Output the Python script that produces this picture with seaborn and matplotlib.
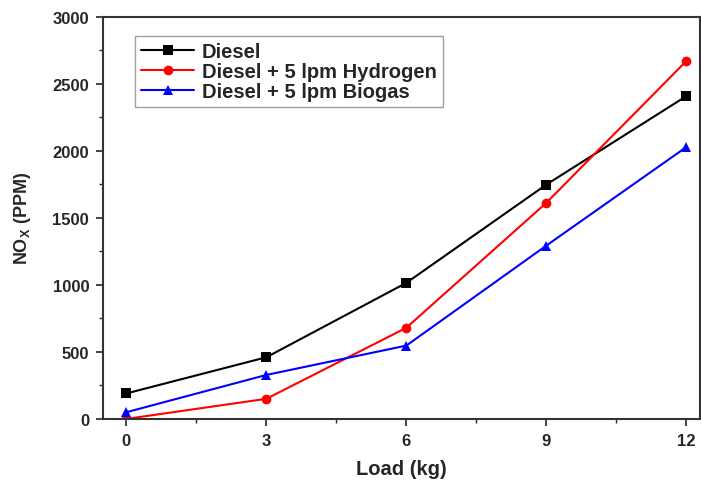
import matplotlib
matplotlib.use("Agg")
import matplotlib.pyplot as plt
import seaborn as sns
import pandas as pd
from matplotlib.ticker import MultipleLocator

load = [0, 3, 6, 9, 12]
diesel = [190, 460, 1015, 1748, 2408]
hydrogen = [0, 150, 680, 1612, 2670]
biogas = [50, 328, 547, 1293, 2028]
labels = ["Diesel", "Diesel + 5 lpm Hydrogen", "Diesel + 5 lpm Biogas"]
colors = ["black", "red", "blue"]
markers = ["s", "o", "^"]

df = pd.DataFrame({
    "Load": load * 3,
    "NOx": diesel + hydrogen + biogas,
    "Fuel": [labels[0]] * 5 + [labels[1]] * 5 + [labels[2]] * 5,
})

sns.set_style("ticks")
plt.rcParams["font.family"] = ["Liberation Sans", "DejaVu Sans"]
plt.rcParams["font.weight"] = "bold"
plt.rcParams["mathtext.fontset"] = "custom"
plt.rcParams["mathtext.rm"] = "Liberation Sans:bold"
plt.rcParams["mathtext.bf"] = "Liberation Sans:bold"
plt.rcParams["mathtext.it"] = "Liberation Sans:bold"

fig = plt.figure(figsize=(7.01, 4.81), dpi=100)
ax = fig.add_axes([0.147, 0.127, 0.852, 0.836])

sns.lineplot(data=df, x="Load", y="NOx", hue="Fuel", style="Fuel",
             palette=dict(zip(labels, colors)), markers=dict(zip(labels, markers)),
             dashes=False, markersize=7, linewidth=1.5, markeredgewidth=0, ax=ax)

ax.set_xlim(-0.5, 12.3)
ax.set_ylim(0, 3000)
ax.xaxis.set_major_locator(MultipleLocator(3))
ax.xaxis.set_minor_locator(MultipleLocator(1.5))
ax.yaxis.set_major_locator(MultipleLocator(500))
ax.yaxis.set_minor_locator(MultipleLocator(250))
ax.tick_params(which="major", direction="out", length=5, width=1.2, labelsize=12, pad=5)
ax.tick_params(which="minor", direction="out", length=3, width=1.0)
for lab in ax.get_xticklabels() + ax.get_yticklabels():
    lab.set_fontweight("bold")
for s in ax.spines.values():
    s.set_linewidth(1.5)
    s.set_color("#333333")

ax.set_xlabel("Load (kg)", fontsize=14.5, fontweight="bold", labelpad=8)
ax.set_ylabel(r"NO$_{\mathrm{X}}$ (PPM)", fontsize=13, fontweight="bold", labelpad=14)

leg = ax.legend(loc="upper left", bbox_to_anchor=(0.054, 0.953), borderaxespad=0,
                fontsize=14.5, frameon=True, fancybox=False, edgecolor="#888888",
                handlelength=2.6, borderpad=0.3, labelspacing=0.05, handletextpad=0.4)
for t in leg.get_texts():
    t.set_fontweight("bold")
leg.get_frame().set_linewidth(1.0)

fig.savefig("out.png", dpi=100)
